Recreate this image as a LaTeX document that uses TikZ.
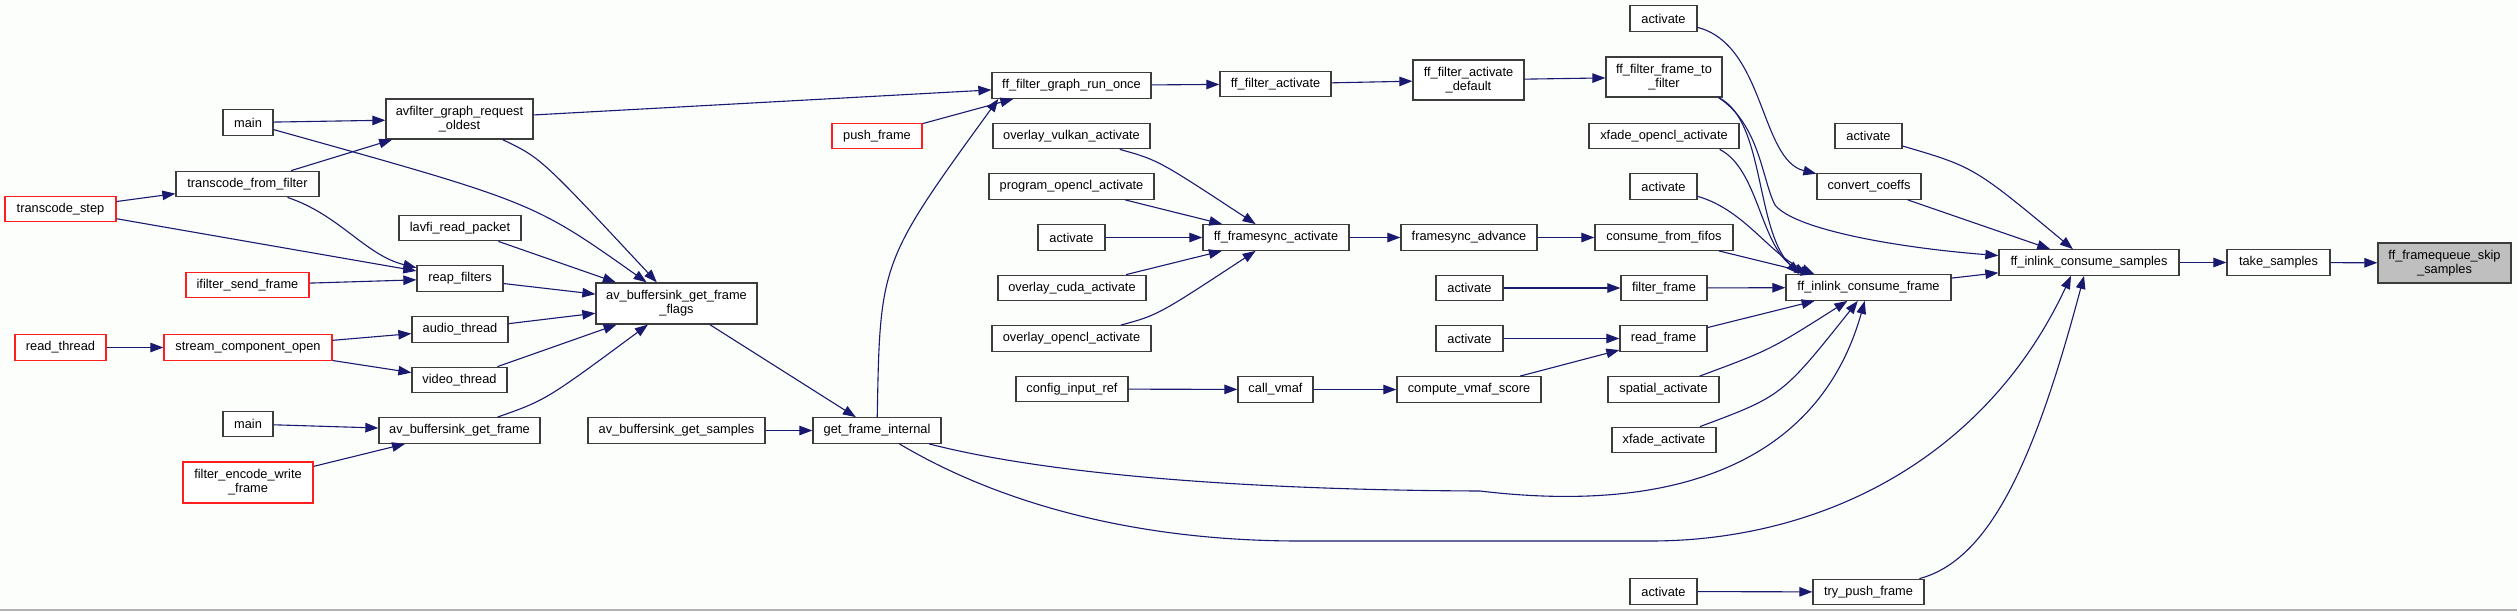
\documentclass[tikz,border=0pt]{standalone}
\usepackage{fontspec}
\setmainfont{Liberation Sans}
\usetikzlibrary{arrows.meta}
\definecolor{edgeblue}{RGB}{25,25,112}
\definecolor{fnborder}{RGB}{60,60,60}
\definecolor{truncred}{RGB}{255,30,30}
\definecolor{rootgray}{RGB}{191,191,191}
\definecolor{paper}{RGB}{252,254,252}
\tikzset{
  fn/.style={rectangle, draw=fnborder, line width=1.3pt, fill=white, minimum height=25.5pt,
             inner sep=0pt, align=center, font=\fontsize{12.8}{14}\selectfont},
  trunc/.style={fn, draw=truncred},
  root/.style={fn, fill=rootgray},
  arr/.style={-{Triangle[length=13pt, width=9.5pt]}, line width=1.1pt, draw=edgeblue, fill=none}
}

\begin{document}
\begin{tikzpicture}[x=1pt, y=-1pt]
\useasboundingbox[fill=paper] (0,0) rectangle (2517,611);
\draw[gray!60, line width=1.2pt] (0,610) -- (2517,610);

\node[trunc, minimum width=111] (tstep) at (60.5,209) {transcode\_step};
\node[trunc, minimum width=91] (rthread) at (60.5,347.5) {read\_thread};
\node[fn, minimum width=50] (main1) at (248,122.5) {main};
\node[fn, minimum width=143] (tfilter) at (247.5,184) {transcode\_from\_filter};
\node[trunc, minimum width=123] (ifsend) at (247.5,285) {ifilter\_send\_frame};
\node[trunc, minimum width=168] (scopen) at (248,347.5) {stream\_component\_open};
\node[fn, minimum width=50] (main2) at (248,424) {main};
\node[trunc, minimum width=130, minimum height=41] (fencw) at (248,482.5) {filter\_encode\_write\\\_frame};
\node[fn, minimum width=147, minimum height=40] (agro) at (459.5,119) {avfilter\_graph\_request\\\_oldest};
\node[fn, minimum width=122] (lavfi) at (460,228) {lavfi\_read\_packet};
\node[fn, minimum width=86] (reap) at (460,278.5) {reap\_filters};
\node[fn, minimum width=96] (athread) at (460,329.5) {audio\_thread};
\node[fn, minimum width=95] (vthread) at (459.5,380) {video\_thread};
\node[fn, minimum width=161] (absgf) at (459.5,430.5) {av\_buffersink\_get\_frame};
\node[fn, minimum width=161, minimum height=41] (absgff) at (676.5,303.5) {av\_buffersink\_get\_frame\\\_flags};
\node[fn, minimum width=177] (absgs) at (676.5,430.5) {av\_buffersink\_get\_samples};
\node[trunc, minimum width=90] (push) at (877,136) {push\_frame};
\node[fn, minimum width=128] (gfi) at (877,430.5) {get\_frame\_internal};
\node[fn, minimum width=159] (fgro) at (1071.5,85.5) {ff\_filter\_graph\_run\_once};
\node[fn, minimum width=157] (ovulkan) at (1071.5,136) {overlay\_vulkan\_activate};
\node[fn, minimum width=165] (popencl) at (1071.5,186.5) {program\_opencl\_activate};
\node[fn, minimum width=67] (actfs) at (1071.5,237.5) {activate};
\node[fn, minimum width=148] (ocuda) at (1072,288) {overlay\_cuda\_activate};
\node[fn, minimum width=159] (oopencl) at (1071.5,338.5) {overlay\_opencl\_activate};
\node[fn, minimum width=112] (cir) at (1072,389) {config\_input\_ref};
\node[fn, minimum width=111] (ffa) at (1275.5,84) {ff\_filter\_activate};
\node[fn, minimum width=146] (ffsa) at (1276,237.5) {ff\_framesync\_activate};
\node[fn, minimum width=75] (cvmaf) at (1275.5,389.5) {call\_vmaf};
\node[fn, minimum width=111, minimum height=40] (ffad) at (1468.5,80) {ff\_filter\_activate\\\_default};
\node[fn, minimum width=136] (fsadv) at (1469,237.5) {framesync\_advance};
\node[fn, minimum width=67] (actff) at (1469.5,288) {activate};
\node[fn, minimum width=67] (actrf) at (1469.5,338.5) {activate};
\node[fn, minimum width=144] (cvs) at (1469,389.5) {compute\_vmaf\_score};
\node[fn, minimum width=67] (acttop) at (1663.5,18.5) {activate};
\node[fn, minimum width=116, minimum height=40] (fftf) at (1664,77) {ff\_filter\_frame\_to\\\_filter};
\node[fn, minimum width=150] (xfocl) at (1664,136) {xfade\_opencl\_activate};
\node[fn, minimum width=67] (act2) at (1663.5,186.5) {activate};
\node[fn, minimum width=138] (cff) at (1664,237.5) {consume\_from\_fifos};
\node[fn, minimum width=86] (ffr) at (1664,288) {filter\_frame};
\node[fn, minimum width=87] (rframe) at (1663.5,338.5) {read\_frame};
\node[fn, minimum width=111] (spatial) at (1663.5,389.5) {spatial\_activate};
\node[fn, minimum width=104] (xfade) at (1664,440) {xfade\_activate};
\node[fn, minimum width=67] (actbot) at (1663.5,591.5) {activate};
\node[fn, minimum width=67] (actcc) at (1868.5,136) {activate};
\node[fn, minimum width=104] (ccoef) at (1869,186.5) {convert\_coeffs};
\node[fn, minimum width=165] (ficf) at (1868.5,287.5) {ff\_inlink\_consume\_frame};
\node[fn, minimum width=111] (tpf) at (1868.5,592) {try\_push\_frame};
\node[fn, minimum width=180] (fics) at (2089,262.5) {ff\_inlink\_consume\_samples};
\node[fn, minimum width=103] (tsamp) at (2278.5,262.5) {take\_samples};
\node[root, minimum width=133, minimum height=40] (ffqs) at (2444.5,263) {ff\_framequeue\_skip\\\_samples};

\draw[arr] (main1) -- (agro);
\draw[arr] (tfilter) -- (agro);
\draw[arr] (tstep) -- (tfilter);
\draw[arr] (tstep) -- (reap);
\draw[arr] (tfilter) .. controls (340,215) and (365,255) .. (reap);
\draw[arr] (ifsend) -- (reap);
\draw[arr] (rthread) -- (scopen);
\draw[arr] (scopen) -- (athread);
\draw[arr] (scopen) -- (vthread);
\draw[arr] (main2) -- (absgf);
\draw[arr] (fencw) -- (absgf);
\draw[arr] (main1) .. controls (533,202) .. (absgff);
\draw[arr] (agro) .. controls (541,158) .. (absgff);
\draw[arr] (lavfi) -- (absgff);
\draw[arr] (reap) -- (absgff);
\draw[arr] (athread) -- (absgff);
\draw[arr] (vthread) -- (absgff);
\draw[arr] (absgf) .. controls (546,400) .. (absgff);
\draw[arr] (absgff) -- (gfi);
\draw[arr] (absgs) -- (gfi);

\draw[arr] (agro) -- (fgro);
\draw[arr] (push) -- ([xshift=22]fgro.south west);
\draw[arr] (gfi) .. controls (880,262) .. ([xshift=7]fgro.south west);
\draw[arr] (fgro) -- (ffa);
\draw[arr] (ffa) -- (ffad);
\draw[arr] (ffad) -- (fftf);
\draw[arr] (ovulkan) .. controls (1158,160) .. (ffsa);
\draw[arr] (popencl) -- (ffsa);
\draw[arr] (actfs) -- (ffsa);
\draw[arr] (ocuda) -- (ffsa);
\draw[arr] (oopencl) .. controls (1158,315) .. (ffsa);
\draw[arr] (ffsa) -- (fsadv);
\draw[arr] (fsadv) -- (cff);
\draw[arr] (actff) -- (ffr);
\draw[arr] (actrf) -- (rframe);
\draw[arr] (cir) -- (cvmaf);
\draw[arr] (cvmaf) -- (cvs);
\draw[arr] (cvs) -- (rframe);
\draw[arr] (actbot) -- (tpf);

\draw[arr] (acttop) .. controls (1765,45) and (1760,160) .. (ccoef);
\draw[arr] (actcc) .. controls (1974,167) .. (fics);
\draw[arr] (ccoef) -- (fics);
\draw[arr] ([xshift=-4]fftf.south east) .. controls (1760,125) and (1762,180) .. (1775,205)
  .. controls (1795,230) and (1900,248) .. (fics);
\draw[arr] ([xshift=-4]fftf.south east) .. controls (1765,120) and (1755,230) .. ([xshift=14]ficf.north west);
\draw[arr] ([xshift=-20]xfocl.south east) .. controls (1760,170) and (1760,250) .. ([xshift=22]ficf.north west);
\draw[arr] (act2) .. controls (1745,210) and (1770,255) .. ([xshift=29]ficf.north west);
\draw[arr] (cff) -- (ficf);
\draw[arr] (ffr) -- (ficf);
\draw[arr] (rframe) -- (ficf);
\draw[arr] (spatial) .. controls (1770,350) .. (ficf);
\draw[arr] (xfade) .. controls (1782,396) .. (ficf);
\draw[arr] (gfi) .. controls (1050,475) and (1250,490) .. (1480,491)
  .. controls (1680,515) and (1820,460) .. (ficf);
\draw[arr] (gfi) .. controls (970,486) and (1100,541) .. (1300,541) -- (1650,541)
  .. controls (1820,541) and (1985,460) .. ([xshift=-18]fics.south);
\draw[arr] (tpf) .. controls (1990,560) and (2035,460) .. ([xshift=-5]fics.south);
\draw[arr] (ficf) -- (fics);
\draw[arr] (fics) -- (tsamp);
\draw[arr] (tsamp) -- (ffqs);
\end{tikzpicture}
\end{document}
